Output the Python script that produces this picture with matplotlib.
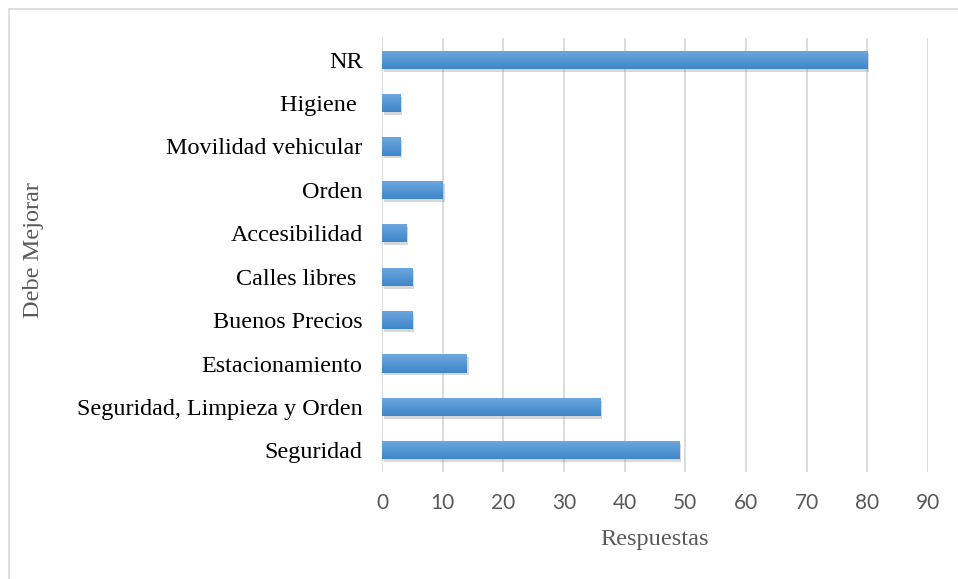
import matplotlib
matplotlib.use('Agg')
import matplotlib.pyplot as plt
import matplotlib.patheffects as pe
from matplotlib.lines import Line2D
import numpy as np

categories = ['Seguridad', 'Seguridad, Limpieza y Orden', 'Estacionamiento',
              'Buenos Precios', 'Calles libres ', 'Accesibilidad', 'Orden',
              'Movilidad vehicular', 'Higiene ', 'NR']
values = [49, 36, 14, 5, 5, 4, 10, 3, 3, 80]
xticks = list(range(0, 100, 10))

fig = plt.figure(figsize=(9.58, 5.79), dpi=100)
ax = fig.add_axes([382 / 958, 1 - 472 / 579, (928 - 382) / 958, (472 - 38) / 579])

y = np.arange(len(categories))
bars = ax.barh(y, values, height=0.42, color='#5b9bd5', zorder=3,
               path_effects=[pe.SimplePatchShadow(offset=(1.5, -2), shadow_rgbFace='#808080', alpha=0.3),
                             pe.Normal()])

# vertical gradient inside each bar, lighter on top
grad = np.linspace(0, 1, 64).reshape(-1, 1)
cmap = matplotlib.colors.LinearSegmentedColormap.from_list('g', ['#6ea8df', '#3f86c9'])
for b in bars:
    x0, y0 = b.get_x(), b.get_y()
    im = ax.imshow(grad, cmap=cmap, aspect='auto', zorder=4,
                   extent=(x0, x0 + b.get_width(), y0, y0 + b.get_height()), origin='upper')
    im.set_clip_path(b)

ax.set_xlim(0, 90)
ax.set_ylim(-0.5, len(categories) - 0.5)
ax.set_xticks(xticks)
ax.set_yticks(y)
ax.set_yticklabels(categories, fontfamily='Liberation Serif', fontsize=17.4, color='black')
ax.set_xticklabels([str(t) for t in xticks], fontfamily='Lato', fontsize=15, color='#595959')
ax.grid(axis='x', color='#d9d9d9', linewidth=1.3, zorder=0)
ax.tick_params(axis='both', length=0)
ax.tick_params(axis='x', pad=15)
ax.tick_params(axis='y', pad=14)
for s in ax.spines.values():
    s.set_visible(False)

ax.set_xlabel('Respuestas', fontfamily='Liberation Serif', fontsize=17.5, color='#595959', labelpad=12)
fig.text(33 / 958, 1 - 250 / 579, 'Debe Mejorar', rotation=90, ha='center', va='center',
         fontfamily='Liberation Serif', fontsize=17.5, color='#595959')

# outer frame (left and top edges)
fig.add_artist(Line2D([8.5 / 958, 8.5 / 958], [0, 1 - 8.5 / 579], color='#d9d9d9', lw=1.2))
fig.add_artist(Line2D([8.5 / 958, 1], [1 - 8.5 / 579, 1 - 8.5 / 579], color='#d9d9d9', lw=1.2))

fig.savefig('out.png', dpi=100)
